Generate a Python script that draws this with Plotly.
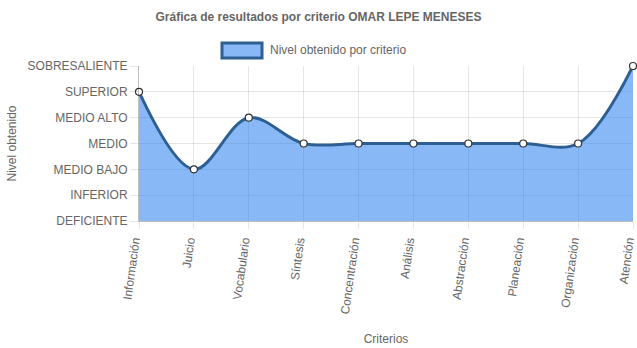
import plotly.graph_objects as go

categories = ["Información", "Juicio", "Vocabulario", "Síntesis", "Concentración",
              "Análisis", "Abstracción", "Planeación", "Organización", "Atención"]
levels = ["DEFICIENTE", "INFERIOR", "MEDIO BAJO", "MEDIO", "MEDIO ALTO",
          "SUPERIOR", "SOBRESALIENTE"]
values = [5, 2, 4, 3, 3, 3, 3, 3, 3, 6]

series_name = "Nivel obtenido por criterio"
title = "Gráfica de resultados por criterio OMAR LEPE MENESES"

FONT = "Liberation Sans, Arial, sans-serif"
GREY = "#666666"
LINE = "#2d5f93"
FILL = "rgba(40,125,238,0.55)"

x_idx = list(range(len(categories)))

fig = go.Figure()
fig.add_trace(go.Scatter(
    x=x_idx, y=values, mode="lines+markers",
    line=dict(color=LINE, width=3, shape="spline", smoothing=1.0),
    marker=dict(size=7, color="white", line=dict(color="#333333", width=1.2)),
    fill="tozeroy", fillcolor=FILL, showlegend=False, name=series_name,
    cliponaxis=False,
))

grid = "rgba(0,0,0,0.1)"
fig.update_layout(
    width=637, height=348,
    margin=dict(l=139, r=4, t=66, b=127),
    paper_bgcolor="white", plot_bgcolor="white",
    font=dict(family=FONT, size=12, color=GREY),
    title=dict(text="<b>" + title + "</b>", x=0.5, xanchor="center",
               y=1 - 17 / 348, yanchor="middle",
               font=dict(size=12, color=GREY, family=FONT)),
    xaxis=dict(
        range=[0, len(categories) - 1], tickmode="array", tickvals=x_idx,
        ticktext=categories, tickangle=-82, showgrid=True, gridcolor=grid,
        ticks="outside", ticklen=7, tickcolor=grid, zeroline=False,
        showline=True, linecolor="rgba(0,0,0,0.25)", automargin=False,
        ticklabeloverflow="allow", ticklabelshift=-5,
        tickfont=dict(size=12, color=GREY, family=FONT),
        title=dict(text="Criterios", font=dict(size=12, color=GREY, family=FONT), standoff=20),
    ),
    yaxis=dict(
        range=[0, len(levels) - 1], tickmode="array",
        tickvals=list(range(len(levels))), ticktext=levels,
        showgrid=True, gridcolor=grid, ticks="outside", ticklen=8,
        tickcolor=grid, zeroline=False, showline=True, automargin=False,
        linecolor="rgba(0,0,0,0.25)",
        tickfont=dict(size=12, color=GREY, family=FONT),
        title=dict(text="Nivel obtenido", font=dict(size=12, color=GREY, family=FONT), standoff=8),
    ),
)

# legend box drawn manually (Chart.js style)
fig.add_shape(type="rect", xref="paper", yref="paper",
              x0=(222 - 139) / 494, x1=(262 - 139) / 494,
              y0=(221 - 58) / 155, y1=(221 - 43) / 155,
              fillcolor="rgba(40,125,238,0.55)", line=dict(color=LINE, width=3))
fig.add_annotation(xref="paper", yref="paper", x=(268 - 139) / 494,
                   y=(221 - 50.5) / 155, text=series_name, showarrow=False,
                   xanchor="left", yanchor="middle",
                   font=dict(size=12, color=GREY, family=FONT))

fig.write_html("out.html")
